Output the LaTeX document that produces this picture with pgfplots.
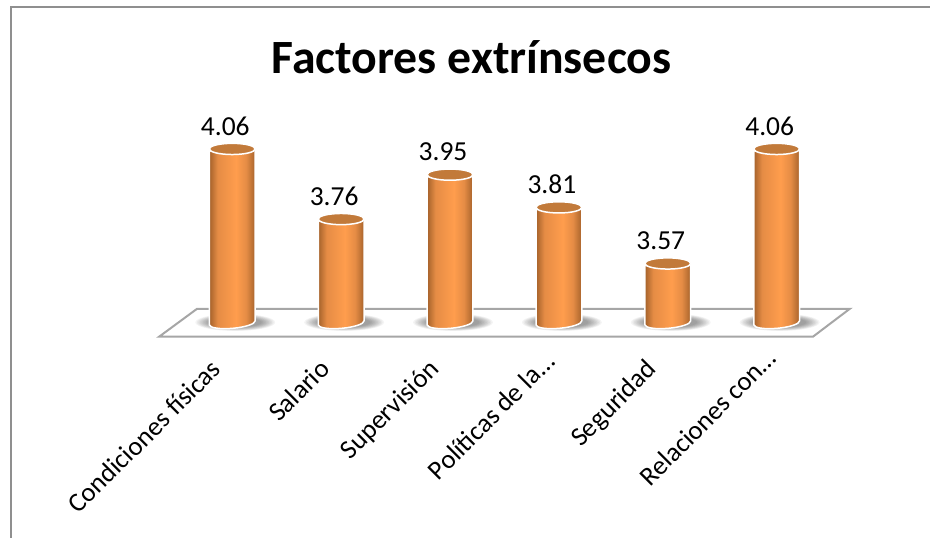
\documentclass[border=0pt]{standalone}
\usepackage{fontspec}
\setmainfont{Carlito}
\usepackage{pgfplots}
\pgfplotsset{compat=1.18}

\definecolor{framegray}{HTML}{8F8F8F}
\definecolor{floorgray}{HTML}{A6A6A6}
\definecolor{capbrown}{HTML}{C27A3A}
\definecolor{cylA}{HTML}{A5622B}
\definecolor{cylB}{HTML}{E58C45}
\definecolor{cylC}{HTML}{FF9D4D}

% cylinder wall: dark edges, bright band just right of the middle
\pgfdeclarehorizontalshading{cylwall}{100bp}{
  color(0bp)=(cylA); color(25bp)=(cylA); color(34bp)=(cylB);
  color(54bp)=(cylC); color(65bp)=(cylB); color(75bp)=(cylA); color(100bp)=(cylA)}

\def\basevalue{3.316}
\def\ptperunit{234}

% full cylinder hanging from its top centre; \ry is the value of the point
\pgfdeclareplotmark{cylinder}{%
  \pgfmathsetmacro{\h}{(\ry-\basevalue)*\ptperunit}%
  \path[shading=cylwall, draw=white, line width=1.5pt]
    (-22.9pt,-2pt)
    -- ({-22.9pt},{-\h pt-2pt})
    .. controls ({-22.63pt},{-\h pt-5.03pt}) and ({-12.17pt},{-\h pt-6.58pt}) .. ({0.48pt},{-\h pt-5.48pt})
    .. controls ({13.13pt},{-\h pt-4.38pt}) and ({23.17pt},{-\h pt-1.03pt}) .. ({22.9pt},{-\h pt+2pt})
    -- (22.9pt,2pt) -- cycle;
  \path[fill=capbrown, draw=white, line width=1.5pt, rotate=5]
    (0pt,0pt) ellipse [x radius=23pt, y radius=5.6pt];
}
% soft contact shadow: concentric translucent ellipses
\pgfdeclareplotmark{shadow}{%
  \foreach \rx/\ryy in {40/8.6,38.5/8.2,37/7.8,35.5/7.4,34/7.0,32.5/6.6,31/6.2,29.5/5.8,28/5.4,26.5/5.0}{%
    \path[fill=black, draw=none, fill opacity=0.045] (3pt,0.5pt) ellipse [x radius=\rx pt, y radius=\ryy pt];
  }%
}

\begin{document}
\begin{tikzpicture}
\begin{axis}[
  scale only axis, width=931pt, height=538pt,
  at={(0pt,0pt)},
  xmin=-2.1330, xmax=6.4083,
  ymin=2.3976, ymax=4.6968,
  axis line style={draw=none},
  major tick length=0pt,
  ytick=\empty,
  xtick={0,1,2,3,4,5},
  xticklabels={Condiciones físicas,Salario,Supervisión,Políticas de la…\hspace*{-10pt},Seguridad,Relaciones con…\hspace*{-15pt}},
  xticklabel style={font=\fontsize{26.8}{27}\selectfont, xshift=-23pt, yshift=185pt,
    rotate=45, anchor=north east},
  title={\textbf{Factores extrínsecos}},
  title style={font=\fontsize{47.8}{48}\selectfont, at={(axis description cs:0.507,0.8825)}, anchor=center},
  clip=false,
]
% chart frame
\addplot[framegray, line width=2pt] coordinates {(-2.032,2.3976) (-2.032,4.6668) (6.4083,4.6668)};
% floor
\addplot[floorgray, fill=white, line width=2pt] coordinates
  {(-0.672,3.2566) (-0.323,3.3762) (5.672,3.3762) (5.333,3.2566)} -- cycle;
% shadows at the foot of each cylinder
\addplot[only marks, mark=shadow] coordinates
  {(0,3.316) (1,3.316) (2,3.316) (3,3.316) (4,3.316) (5,3.316)};
% the cylinders and their values
\addplot[
  only marks, scatter, point meta=y,
  visualization depends on={rawy \as \ry},
  mark=cylinder,
  nodes near coords,
  nodes near coords style={font=\fontsize{27.5}{28}\selectfont, text=black, anchor=south,
    xshift=-7pt, yshift=10pt,
    /pgf/number format/assume math mode=true,
    /pgf/number format/fixed, /pgf/number format/fixed zerofill, /pgf/number format/precision=2},
] coordinates {(0,4.06) (1,3.76) (2,3.95) (3,3.81) (4,3.57) (5,4.06)};
\end{axis}
\end{tikzpicture}
\end{document}
